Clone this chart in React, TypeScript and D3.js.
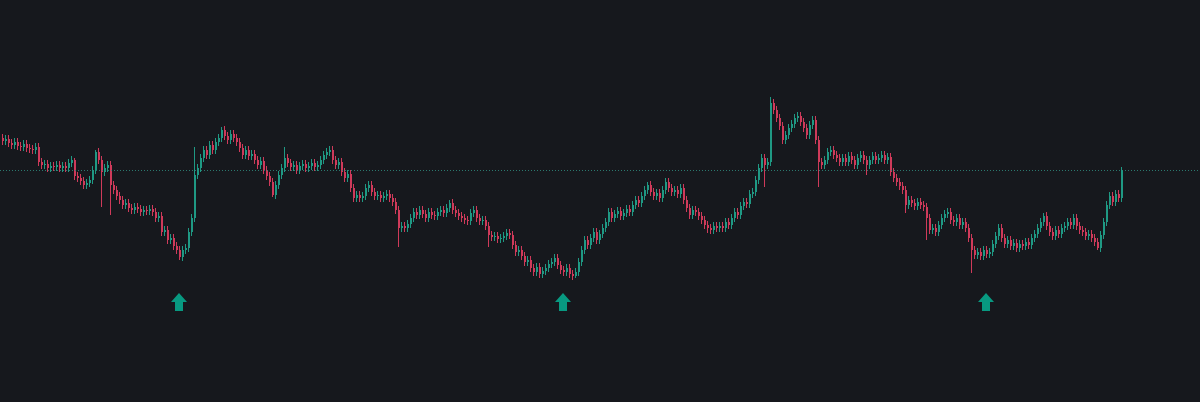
import React, { useEffect, useRef } from "react";
import * as d3 from "d3";

const W = 1200;
const H = 402;

// Close prices, one per candle
const closes: number[] = [
  259, 261, 257, 255, 258, 254, 253, 256, 252, 251,
  250, 253, 238, 235, 236, 232, 234, 233, 235, 232,
  234, 232, 237, 240, 224, 222, 219, 215, 217, 220,
  230, 248, 240, 228, 232, 235, 215, 210, 204, 200,
  195, 197, 192, 190, 193, 191, 188, 190, 189, 191,
  188, 182, 184, 168, 170, 160, 162, 154, 150, 143,
  150, 152, 168, 182, 225, 232, 242, 250, 245, 255,
  250, 258, 262, 270, 264, 260, 266, 262, 258, 252,
  245, 250, 244, 246, 240, 235, 239, 230, 224, 218,
  205, 215, 225, 232, 242, 237, 233, 235, 230, 234,
  236, 232, 234, 237, 233, 235, 240, 245, 248, 250,
  240, 235, 238, 228, 222, 226, 212, 202, 205, 202,
  204, 212, 215, 208, 204, 205, 202, 204, 206, 202,
  198, 190, 172, 174, 172, 176, 182, 188, 185, 190,
  186, 182, 188, 185, 184, 188, 190, 187, 192, 197,
  190, 187, 184, 182, 180, 179, 187, 190, 182, 179,
  180, 174, 165, 163, 164, 161, 162, 164, 167, 165,
  155, 148, 150, 144, 138, 140, 132, 128, 133, 126,
  129, 132, 136, 138, 142, 135, 130, 128, 132, 126,
  124, 128, 138, 150, 160, 155, 162, 168, 160, 166,
  172, 178, 188, 182, 186, 189, 184, 187, 191, 188,
  195, 200, 197, 204, 210, 215, 208, 204, 207, 202,
  210, 218, 212, 208, 210, 206, 212, 200, 192, 185,
  190, 188, 184, 180, 175, 172, 170, 174, 172, 174,
  172, 178, 175, 182, 188, 185, 194, 198, 196, 206,
  208, 220, 232, 242, 235, 238, 297, 290, 282, 274,
  260, 265, 272, 276, 282, 284, 278, 272, 265, 275,
  280, 260, 238, 235, 240, 248, 250, 245, 242, 238,
  242, 238, 244, 240, 235, 242, 245, 240, 235, 240,
  244, 240, 242, 245, 240, 243, 228, 222, 218, 214,
  210, 195, 200, 197, 194, 198, 195, 193, 182, 170,
  172, 168, 175, 182, 186, 188, 180, 178, 182, 175,
  178, 172, 162, 150, 145, 148, 144, 150, 146, 148,
  156, 164, 172, 162, 156, 160, 154, 157, 152, 156,
  154, 158, 155, 162, 166, 172, 178, 184, 174, 168,
  164, 170, 166, 172, 174, 178, 175, 182, 174, 170,
  168, 164, 166, 162, 158, 152, 165, 178, 195, 204,
  198, 206, 202, 230,
];
const firstOpen = 262;

// Notable wick extremes: [candle index, price]
const highWicks: [number, number][] = [
  [24, 242], [31, 250], [64, 253], [73, 273], [94, 253], [108, 252],
  [149, 200], [215, 218], [221, 222], [256, 303], [347, 187], [373, 233],
];
const lowWicks: [number, number][] = [
  [33, 193], [36, 185], [59, 140], [90, 203], [132, 153], [162, 153],
  [191, 122], [235, 167], [254, 213], [272, 213], [288, 225], [301, 187],
  [308, 160], [323, 127], [365, 150],
];

// Candle indices where buy signals (arrows) are shown
const signals: number[] = [59, 187, 328];

const WICK = 4;

export default function App() {
  const ref = useRef<SVGSVGElement>(null);

  useEffect(() => {
    document.body.style.margin = "0";
    document.body.style.background = "#16181d";
    const svg = d3.select(ref.current);
    svg.selectAll("*").remove();

    const x = d3.scaleLinear().domain([0, closes.length - 1]).range([2, 1121]);
    const y = d3.scaleLinear().domain([100, 320]).range([300, 80]);

    const hiMap = new Map(highWicks);
    const loMap = new Map(lowWicks);
    const candles = closes.map((c, i) => {
      const o = i === 0 ? firstOpen : closes[i - 1];
      const hi = hiMap.get(i) ?? Math.max(o, c) + WICK;
      const lo = loMap.get(i) ?? Math.min(o, c) - WICK;
      return { i, o, c, hi, lo };
    });

    svg.append("rect").attr("width", W).attr("height", H).attr("fill", "#16181d");

    const UP = "#1f9984";
    const DOWN = "#cf3a5a";

    const g = svg.append("g");
    g.selectAll("line.wick")
      .data(candles)
      .join("line")
      .attr("x1", (d) => Math.round(x(d.i)) + 0.5)
      .attr("x2", (d) => Math.round(x(d.i)) + 0.5)
      .attr("y1", (d) => y(d.hi))
      .attr("y2", (d) => y(d.lo))
      .attr("stroke", (d) => (d.c >= d.o ? UP : DOWN))
      .attr("stroke-width", 1);

    g.selectAll("rect.body")
      .data(candles)
      .join("rect")
      .attr("x", (d) => Math.round(x(d.i)))
      .attr("width", 2)
      .attr("y", (d) => y(Math.max(d.o, d.c)))
      .attr("height", (d) => Math.max(1, Math.abs(y(d.o) - y(d.c))))
      .attr("fill", (d) => (d.c >= d.o ? UP : DOWN));

    // last price dotted line
    const last = closes[closes.length - 1];
    svg.append("line")
      .attr("x1", 0)
      .attr("x2", W)
      .attr("y1", Math.round(y(last)) + 0.5)
      .attr("y2", Math.round(y(last)) + 0.5)
      .attr("stroke", "#2f8a7c")
      .attr("stroke-opacity", 0.85)
      .attr("stroke-width", 1)
      .attr("stroke-dasharray", "1,2");

    // signal arrows
    const arrowTop = 293;
    svg.selectAll("path.arrow")
      .data(signals)
      .join("path")
      .attr("d", (i) => {
        const cx = x(i);
        return `M${cx},${arrowTop} L${cx + 8},${arrowTop + 9} L${cx + 4},${arrowTop + 9} L${cx + 4},${arrowTop + 18} L${cx - 4},${arrowTop + 18} L${cx - 4},${arrowTop + 9} L${cx - 8},${arrowTop + 9} Z`;
      })
      .attr("fill", "#089981");
  }, []);

  return (
    <svg
      ref={ref}
      width={W}
      height={H}
      style={{ position: "absolute", left: 0, top: 0, display: "block" }}
    />
  );
}
